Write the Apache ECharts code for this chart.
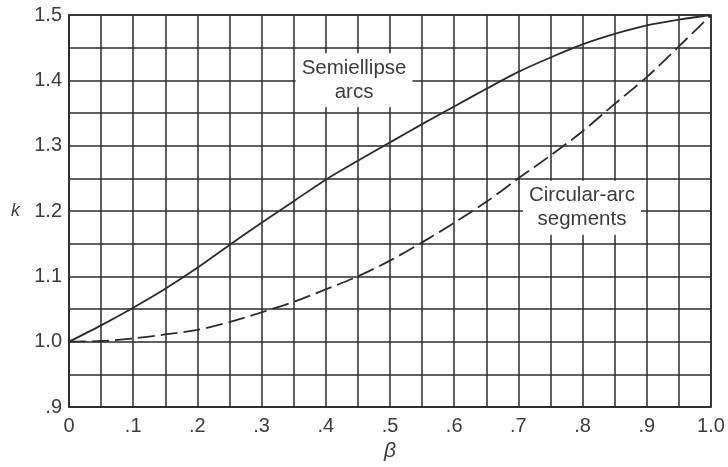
<!DOCTYPE html>
<html><head><meta charset="utf-8">
<script src="https://cdn.jsdelivr.net/npm/echarts@6/dist/echarts.min.js"></script>
<style>html,body{margin:0;padding:0;background:#fff}#c{width:728px;height:467px}</style>
</head><body><div id="c"></div>
<script>
var beta = [0,0.05,0.1,0.15,0.2,0.25,0.3,0.35,0.4,0.45,0.5,0.55,0.6,0.65,0.7,0.75,0.8,0.85,0.9,0.95,1.0];
var semiellipse = [1.0,1.025,1.052,1.081,1.113,1.148,1.182,1.215,1.248,1.277,1.305,1.333,1.36,1.387,1.413,1.435,1.455,1.471,1.484,1.493,1.5];
var circularArc = [1.0,1.001,1.005,1.011,1.018,1.03,1.045,1.061,1.08,1.10,1.124,1.152,1.182,1.214,1.25,1.285,1.322,1.364,1.405,1.452,1.5];
var xTickLabels = ['0','.1','.2','.3','.4','.5','.6','.7','.8','.9','1.0'];
var yTickLabels = ['.9','1.0','1.1','1.2','1.3','1.4','1.5'];
var semiLabel = ['Semiellipse','arcs'];
var circLabel = ['Circular-arc','segments'];
var semiLabelAt = [0.444, 1.40];
var circLabelAt = [0.799, 1.205];

function pairs(xs, ys){ return xs.map(function(x,i){return [x, ys[i]];}); }
var FONT = '"Liberation Sans", Arial, sans-serif';
var TXT = '#3c3c3c';
var LINE = '#2b2b2b';

function note(lines, at){
  return {
    silent:true,
    symbol:'circle',
    symbolSize:1,
    itemStyle:{color:'rgba(0,0,0,0)'},
    data:[{coord:at, value:0}],
    label:{
      show:true, position:'inside',
      formatter: lines.join('\n'),
      fontFamily:FONT, fontSize:20.5, color:TXT, lineHeight:24,
      backgroundColor:'#fff', padding:[3,6,3,6], align:'center', verticalAlign:'middle'
    }
  };
}

var chart = echarts.init(document.getElementById('c'), null, {renderer:'canvas'});
chart.setOption({
  backgroundColor:'#fff',
  animation:false,
  grid:{left:69, right:17, top:15, bottom:58, show:true, borderColor:LINE, borderWidth:1.5},
  xAxis:{
    type:'value', min:0, max:1, interval:0.05,
    name:'β', nameLocation:'middle', nameGap:34,
    nameTextStyle:{fontFamily:FONT, fontSize:21, color:TXT, fontStyle:'italic'},
    axisLine:{show:true, lineStyle:{color:LINE, width:1.5}},
    axisTick:{show:false},
    axisLabel:{
      margin:9, fontFamily:FONT, fontSize:20, color:TXT, showMinLabel:true, showMaxLabel:true,
      formatter:function(v){ var i=Math.round(v/0.05); return i%2===0 ? xTickLabels[i/2] : ''; }
    },
    splitLine:{show:true, lineStyle:{color:LINE, width:1.5}}
  },
  yAxis:{
    type:'value', min:0.9, max:1.5, interval:0.05,
    name:'k', nameLocation:'middle', nameGap:49, nameRotate:0,
    nameTextStyle:{fontFamily:FONT, fontSize:18, color:TXT, fontStyle:'italic', padding:[0,0,6,0]},
    axisLine:{show:true, lineStyle:{color:LINE, width:1.5}},
    axisTick:{show:false},
    axisLabel:{
      margin:7, fontFamily:FONT, fontSize:20, color:TXT, showMinLabel:true, showMaxLabel:true,
      formatter:function(v){ var i=Math.round((v-0.9)/0.05); return i%2===0 ? yTickLabels[i/2] : ''; }
    },
    splitLine:{show:true, lineStyle:{color:LINE, width:1.5}}
  },
  series:[
    {
      type:'line', data:pairs(beta, semiellipse), showSymbol:false, smooth:0.3,
      lineStyle:{color:LINE, width:1.8},
      markPoint:note(semiLabel, semiLabelAt), z:3
    },
    {
      type:'line', data:pairs(beta, circularArc), showSymbol:false, smooth:0.3,
      lineStyle:{color:LINE, width:1.8, type:[17,6]},
      markPoint:note(circLabel, circLabelAt), z:3
    }
  ]
});
</script></body></html>
